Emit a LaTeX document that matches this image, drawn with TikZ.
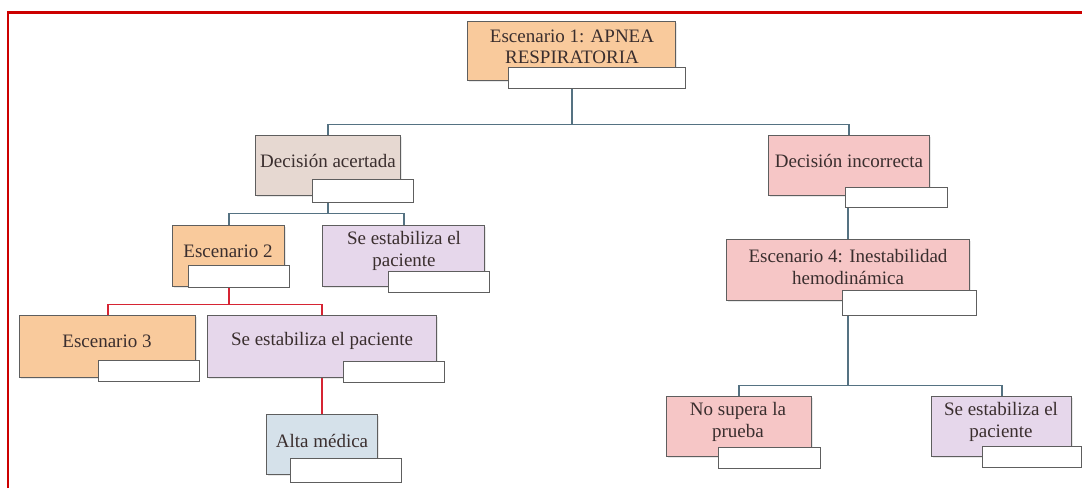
\documentclass[tikz,border=0pt]{standalone}
\usepackage{fontspec}
\setmainfont{Liberation Serif}
\usetikzlibrary{shadows}
\definecolor{cOr}{HTML}{F9CA9C}
\definecolor{cBe}{HTML}{E6D8D1}
\definecolor{cPk}{HTML}{F6C6C6}
\definecolor{cLv}{HTML}{E6D7EB}
\definecolor{cBu}{HTML}{D5E1EA}
\definecolor{cBd}{HTML}{5E5E5E}
\definecolor{cTx}{HTML}{3A2E2E}
\definecolor{cBl}{HTML}{557282}
\definecolor{cRd}{HTML}{D62433}
\definecolor{cFr}{HTML}{CC0000}
\pgfdeclarelayer{bg}
\pgfsetlayers{bg,main}
\newcommand\mybox[6]{\node[box,fill=#6,minimum width={#3-#1},minimum height={#4-#2}] (#5) at (#1,#2) {};}
\newcommand\mylab[5]{\node[lab,minimum width={#3-#1},minimum height={#4-#2}] (#5) at (#1,#2) {};}
\begin{document}
\begin{tikzpicture}[x=1pt,y=-1pt,
  box/.style={draw=cBd, line width=1.4pt, inner sep=0pt, anchor=north west,
    drop shadow={opacity=0.18, shadow xshift=1.5pt, shadow yshift=-1.5pt}},
  lab/.style={draw=cBd, fill=white, line width=1.4pt, inner sep=0pt, anchor=north west},
  txt/.style={font=\fontsize{19}{21.5}\selectfont, text=cTx, align=center, inner sep=0pt},
  bl/.style={draw=cBl, line width=1.8pt},
  rd/.style={draw=cRd, line width=1.8pt},
  frame/.style={draw=cFr, line width=2.5pt}]
\useasboundingbox (0,0) rectangle (1082,488);
% boxes
\mybox{467}{21}{675}{80}{root}{cOr}
\mybox{255}{135}{400}{195}{dA}{cBe}
\mybox{768}{135}{929}{195}{dI}{cPk}
\mybox{172}{225}{284}{286}{esc2}{cOr}
\mybox{322}{225}{484}{286}{se1}{cLv}
\mybox{19}{315}{195}{377}{esc3}{cOr}
\mybox{207}{315}{436}{377}{se2}{cLv}
\mybox{266}{414}{377}{474}{alta}{cBu}
\mybox{726}{239}{969}{300}{esc4}{cPk}
\mybox{666}{396}{811}{456}{nosup}{cPk}
\mybox{931}{396}{1071}{456}{se3}{cLv}
% texts
\node[txt] (t-root) at (572,47) {Escenario 1: APNEA\\RESPIRATORIA};
\node[txt] (t-dA) at (328,161) {Decisión acertada};
\node[txt] (t-dI) at (849,161) {Decisión incorrecta};
\node[txt] (t-esc2) at (228,251) {Escenario 2};
\node[txt] (t-se1) at (404,251) {Se estabiliza el\\paciente};
\node[txt] (t-esc3) at (107,341) {Escenario 3};
\node[txt] (t-se2) at (322,341) {Se estabiliza el paciente};
\node[txt] (t-alta) at (322,441) {Alta médica};
\node[txt] (t-esc4) at (848,267) {Escenario 4: Inestabilidad\\hemodinámica};
\node[txt] (t-nosup) at (738,422) {No supera la\\prueba};
\node[txt] (t-se3) at (1001,422) {Se estabiliza el\\paciente};
% label boxes
\mylab{508}{67}{685}{88}{rootL}
\mylab{312}{179}{413}{202}{dAL}
\mylab{845}{187}{947}{207}{dIL}
\mylab{188}{265}{289}{287}{esc2L}
\mylab{388}{271}{489}{292}{se1L}
\mylab{98}{360}{199}{381}{esc3L}
\mylab{343}{361}{444}{382}{se2L}
\mylab{290}{458}{401}{482}{altaL}
\mylab{842}{290}{976}{315}{esc4L}
\mylab{718}{447}{820}{468}{nosupL}
\mylab{982}{446}{1081}{467}{se3L}
% connectors and frame
\begin{pgfonlayer}{bg}
\fill[white] (0,0) rectangle (1082,488);
\draw[bl] (root.south |- rootL.south) -- ++(0,35) -| (dA.north);
\draw[bl] (root.south |- rootL.south) -- ++(0,35) -| (dI.north);
\draw[bl] (dA.south |- dAL.south) -- ++(0,10) -| (esc2.north);
\draw[bl] (dA.south |- dAL.south) -- ++(0,10) -| (se1.north);
\draw[rd] (esc2.south |- esc2L.south) -- ++(0,16) -| (esc3.north);
\draw[rd] (esc2.south |- esc2L.south) -- ++(0,16) -| (se2.north);
\draw[rd] (se2.south) -- (alta.north);
\draw[bl] (esc4.north |- dIL.south) -- (esc4.north);
\draw[bl] (esc4.south |- esc4L.south) -- ++(0,69) -| (nosup.north);
\draw[bl] (esc4.south |- esc4L.south) -- ++(0,69) -| (se3.north);
\coordinate (fa) at (8,488);
\coordinate (fb) at (8,12.5);
\coordinate (fc) at (1082,12.5);
\draw[frame] (fa) -- (fb) -- (fc);
\end{pgfonlayer}
\end{tikzpicture}
\end{document}
